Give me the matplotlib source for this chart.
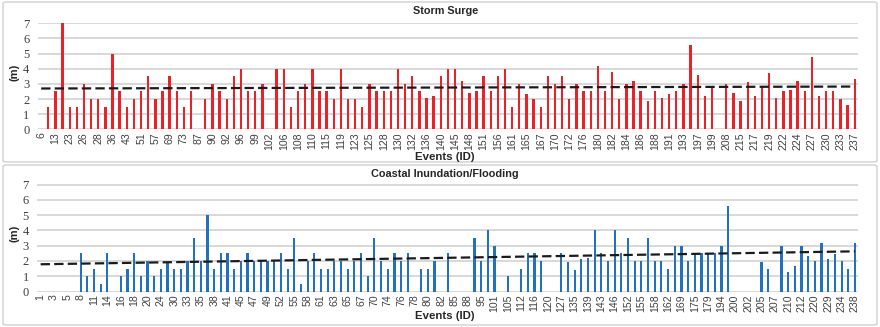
import numpy as np
import matplotlib
matplotlib.use("Agg")
import matplotlib.pyplot as plt
from matplotlib.patches import FancyBboxPatch

# --- data (None = no event value) ---
surge_ids = [6, 13, 23, 26, 28, 36, 43, 51, 57, 69, 73, 87, 90, 92, 96, 99, 102, 106,
             108, 110, 115, 119, 123, 125, 128, 130, 132, 136, 140, 145, 148, 151, 156,
             161, 165, 167, 170, 172, 176, 180, 182, 184, 186, 188, 191, 193, 197, 199,
             208, 215, 217, 219, 222, 224, 227, 230, 233, 237]
surge_m = [None, 1.5, 2.5, 7.0, 1.5, 1.5, 3.0, 2.0, 2.0, 1.5,
           5.0, 2.5, 1.5, 2.0, 2.5, 3.5, 2.0, 2.5, 3.5, 2.5,
           1.5, 2.5, None, 2.0, 3.0, 2.5, 2.0, 3.5, 4.0, 2.5,
           2.5, 3.0, None, 4.0, 4.0, 1.5, 2.5, 3.0, 4.0, 2.5,
           2.5, 2.0, 4.0, 2.0, 2.0, 1.5, 3.0, 2.5, 2.5, 2.5,
           4.0, 3.0, 3.5, 2.5, 2.1, 2.2, 3.5, 4.0, 4.0, 3.2,
           2.4, 2.5, 3.5, 2.5, 3.5, 4.0, 1.5, 3.0, 2.3, 2.0,
           1.5, 3.5, 3.0, 3.5, 2.0, 3.0, 2.5, 2.5, 4.2, 2.5,
           3.8, 2.0, 3.0, 3.2, 2.5, 1.9, 2.5, 2.1, 2.3, 2.5,
           3.0, 5.6, 3.6, 2.2, 2.8, None, 3.0, 2.4, 1.9, 3.1,
           2.2, 2.8, 3.7, 2.1, 2.5, 2.6, 3.2, 2.5, 4.8, 2.2,
           2.5, 2.5, 2.0, 1.6, 3.3]

flood_ids = [1, 3, 5, 8, 11, 14, 16, 18, 20, 24, 30, 33, 35, 38, 41, 45, 47, 49, 52, 55,
             58, 61, 63, 65, 67, 70, 74, 76, 78, 80, 82, 85, 88, 95, 101, 105, 112, 116,
             120, 127, 135, 139, 143, 146, 152, 155, 158, 162, 169, 175, 179, 194, 200,
             202, 205, 207, 210, 212, 220, 229, 234, 238]
flood_m = [None, None, None, None, None, None, 2.5, 1.0, 1.5, 0.5,
           2.5, None, 1.0, 1.5, 2.5, 1.0, 2.0, 1.0, 1.5, 1.9,
           1.5, 1.5, 2.0, 3.5, 2.0, 5.0, 1.5, 2.5, 2.5, 1.5,
           2.0, 2.5, 2.0, 2.0, 2.0, 2.0, 2.5, 1.5, 3.5, 0.5,
           2.0, 2.5, 1.5, 1.5, 2.0, 2.0, 1.5, 2.0, 2.5, 1.0,
           3.5, 2.0, 1.5, 2.5, 2.0, 2.5, None, 1.5, 1.5, 2.0,
           None, 2.5, None, None, None, 3.5, 2.0, 4.0, 3.0, None,
           1.0, None, 1.5, 2.5, 2.5, 2.0, None, None, 2.5, 1.9,
           1.4, 2.1, 2.2, 4.0, 2.5, 2.0, 4.0, 2.5, 3.5, 2.0,
           2.0, 3.5, 2.0, 2.0, 1.5, 3.0, 3.0, 2.0, 2.5, 2.5,
           2.5, 2.5, 3.0, 5.6, None, None, None, None, 1.9, 1.5,
           None, 3.0, 1.25, 1.7, 3.0, 2.3, 2.0, 3.2, 2.1, 2.45,
           2.0, 1.5, 3.2]

W, H = 880, 327
fig = plt.figure(figsize=(W / 100, H / 100), dpi=100)

GRID = '#D4D4D4'
TXT = '#404040'


def px_rect(x0, y0, x1, y1):
    # pixel box (top-left origin) -> figure fraction [l, b, w, h]
    return [x0 / W, 1 - y1 / H, (x1 - x0) / W, (y1 - y0) / H]


def draw_panel(rect, values, ids, color, title, title_y, xlabel_y):
    ax = fig.add_axes(rect)
    vals = np.array([np.nan if v is None else v for v in values], dtype=float)
    n = len(vals)
    x = np.arange(n)
    ax.bar(x, np.nan_to_num(vals), width=0.33, color=color, zorder=3)

    # linear trendline over the existing events
    ok = ~np.isnan(vals)
    k, b = np.polyfit(x[ok], vals[ok], 1)
    ax.plot([0, n - 1], [b, k * (n - 1) + b], color='#1a1a1a', lw=1.6,
            linestyle=(0, (4.2, 1.9)), zorder=4)

    ax.set_xlim(-0.5, n - 0.5)
    ax.set_ylim(0, 7)
    ax.set_yticks(range(8))
    ax.yaxis.grid(True, color=GRID, lw=1.25, zorder=0)
    ax.set_xticks(x[::2])
    ax.set_xticklabels([str(i) for i in ids], rotation=90, fontsize=7.6,
                       family='Liberation Sans', color=TXT)
    for t in ax.get_yticklabels():
        t.set_family('Liberation Serif')
        t.set_fontsize(9)
        t.set_color(TXT)
    ax.tick_params(axis='both', length=0)
    ax.tick_params(axis='x', pad=2)
    ax.tick_params(axis='y', pad=6)
    for s in ax.spines.values():
        s.set_visible(False)
    ax.set_facecolor('none')

    fig.text(0.506, 1 - title_y / H, title, ha='center', va='center',
             fontsize=7.8, fontweight='bold', family='Liberation Sans', color='#262626')
    fig.text(0.506, 1 - xlabel_y / H, 'Events (ID)', ha='center', va='center',
             fontsize=8.2, fontweight='bold', family='Liberation Sans', color='#262626')
    return ax


# chart area frames
for y0, y1 in [(2, 162), (165, 325)]:
    fig.patches.append(FancyBboxPatch((3 / W, 1 - y1 / H), 874 / W, (y1 - y0) / H,
                                      boxstyle='round,pad=0,rounding_size=0.004',
                                      transform=fig.transFigure, fill=False,
                                      edgecolor='#D0D0D0', lw=1.0))

draw_panel(px_rect(37.6, 23.3, 858.3, 129.3), surge_m, surge_ids, '#EC2027',
           'Storm Surge', 11.5, 156.5)
draw_panel(px_rect(37.3, 184.5, 858.3, 291.5), flood_m, flood_ids, '#2171BE',
           'Coastal Inundation/Flooding', 174, 316)

fig.text(15 / W, 1 - 72 / H, '(m)', rotation=90, ha='center', va='center',
         fontsize=8, fontweight='bold', family='Liberation Sans', color='#262626')
fig.text(15 / W, 1 - 233 / H, '(m)', rotation=90, ha='center', va='center',
         fontsize=8, fontweight='bold', family='Liberation Sans', color='#262626')

fig.savefig('out.png', dpi=100)
